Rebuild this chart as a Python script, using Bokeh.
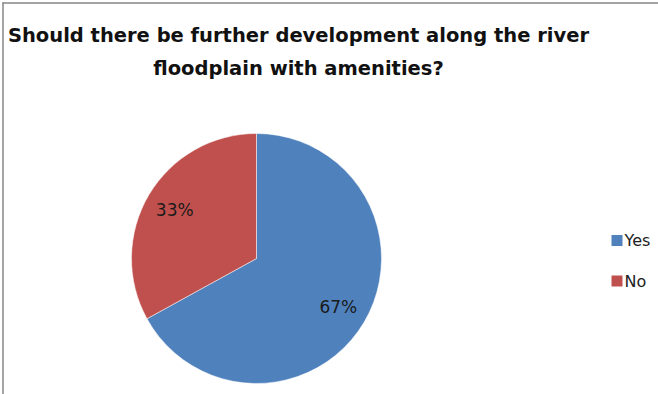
import math
from bokeh.plotting import figure
from bokeh.models import Range1d, ColumnDataSource
from bokeh.core.properties import value
from bokeh.embed import file_html
from bokeh.resources import INLINE

# ---- data ----
categories = ["Yes", "No"]
shares = [67, 33]
colors = ["#4F81BD", "#C0504D"]
title_lines = ["Should there be further development along the river",
               "floodplain with amenities?"]

W, H = 658, 394
p = figure(width=W, height=H, output_backend="svg", toolbar_location=None,
           x_range=Range1d(0, W), y_range=Range1d(0, H), min_border=0,
           outline_line_color=None, background_fill_color="white")
p.axis.visible = False
p.grid.visible = False

# chart frame (top and left edges)
p.segment(x0=[2, 2.5], y0=[H - 2.5, H - 2], x1=[W, 2.5], y1=[H - 2.5, 0],
          line_color="#868686", line_width=1.5)

# pie
cx, cy, r = 256, H - 258, 125
total = sum(shares)
starts, ends, lx, ly, labels = [], [], [], [], []
a = math.pi / 2
for v in shares:
    span = 2 * math.pi * v / total
    starts.append(a)
    ends.append(a - span)
    mid = a - span / 2
    lx.append(cx + 0.76 * r * math.cos(mid))
    ly.append(cy + 0.76 * r * math.sin(mid))
    labels.append(f"{round(100 * v / total)}%")
    a -= span

src = ColumnDataSource(dict(start=starts, end=ends, color=colors,
                            lx=lx, ly=ly, label=labels, cat=categories))
p.wedge(x=cx, y=cy, radius=r, radius_units="screen", start_angle="start",
        end_angle="end", direction="clock", fill_color="color",
        line_color="white", line_width=0.5, source=src)
p.text(x="lx", y="ly", text="label", source=src, text_align="center",
       text_baseline="middle", text_font=value("DejaVu Sans"),
       text_font_size="17px", text_color="#1a1a1a")

# title
p.text(x=[298, 298], y=[H - 35, H - 68], text=title_lines, text_align="center",
       text_baseline="alphabetic", text_font=value("DejaVu Sans"),
       text_font_style="bold", text_font_size="19.5px", text_color="#111111")

# legend
ly0 = [H - 240, H - 280.5]
p.rect(x=[616.5] * 2, y=ly0, width=11, height=11, fill_color=colors,
       line_color=None)
p.text(x=[624] * 2, y=ly0, text=categories, text_align="left",
       text_baseline="middle", text_font=value("DejaVu Sans"),
       text_font_size="16px", text_color="#222222")

open("out.html", "w").write(file_html(p, INLINE))
